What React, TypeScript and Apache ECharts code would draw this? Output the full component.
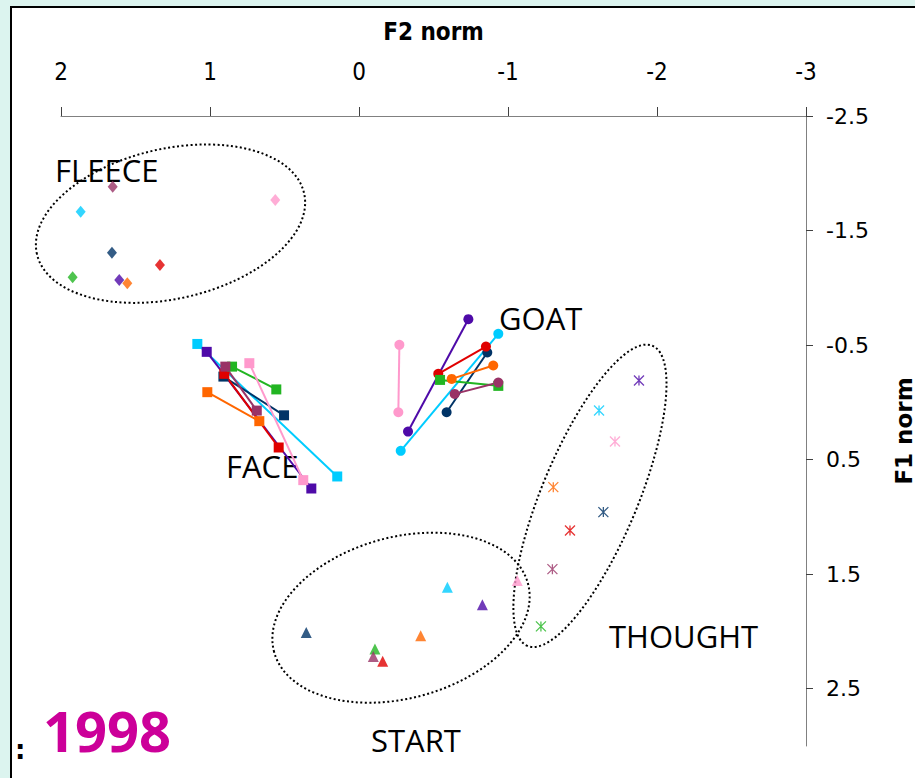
import React, { useEffect, useRef } from "react";
import * as echarts from "echarts";

// ---- data (F2 norm = x, F1 norm = y) ----
const speakerColors = ["#00CCFF", "#003366", "#4E0AA8", "#E00000", "#FF6600", "#22B522", "#993366", "#FF99CC"];

const fleeceX = [1.868, 1.658, 1.609, 1.336, 1.555, 1.922, 1.653, 0.562];
const fleeceY = [-1.665, -1.307, -1.069, -1.2, -1.04, -1.092, -1.883, -1.767];

const faceStartX = [1.085, 0.91, 1.022, 0.904, 1.018, 0.852, 0.897, 0.736];
const faceStartY = [-0.51, -0.225, -0.441, -0.249, -0.089, -0.312, -0.312, -0.342];
const faceEndX = [0.146, 0.503, 0.32, 0.539, 0.669, 0.555, 0.686, 0.374];
const faceEndY = [0.647, 0.113, 0.752, 0.394, 0.164, -0.113, 0.072, 0.679];

const goatStartX = [-0.28, -0.588, -0.329, -0.532, -0.622, -0.544, -0.642, -0.264];
const goatStartY = [0.423, 0.086, 0.255, -0.249, -0.205, -0.196, -0.074, 0.086];
const goatEndX = [-0.935, -0.861, -0.734, -0.852, -0.901, -0.935, -0.935, -0.271];
const goatEndY = [-0.598, -0.435, -0.726, -0.487, -0.322, -0.144, -0.173, -0.502];
const goatSymbols = ["circle", "circle", "circle", "circle", "circle", "rect", "circle", "circle"];

const startX = [-0.593, 0.354, -0.828, -0.159, -0.414, -0.107, -0.096, -1.062];
const startY = [1.613, 2.009, 1.767, 2.261, 2.038, 2.154, 2.218, 1.555];

const thoughtX = [-1.611, -1.64, -1.879, -1.416, -1.304, -1.221, -1.298, -1.718];
const thoughtY = [0.071, 0.958, -0.191, 1.119, 0.74, 1.956, 1.456, 0.342];

const xTicks = [-3, -2, -1, 0, 1, 2];
const yTicks = [-2.5, -1.5, -0.5, 0.5, 1.5, 2.5];

// ellipse annotations: centre in data units
const ellipseCenters = [
  [1.265, -1.56],
  [-0.282, 1.88],
  [-1.55, 0.816],
];
const ellipseRadii = [
  [137, 75],
  [131.5, 80.6],
  [162.6, 48],
];
const ellipseAngles = [12.8, 15.1, 67.4];

const asterisk = "path://M0,0L10,10M10,0L0,10M5,0L5,10";

export default function App() {
  const ref = useRef<HTMLDivElement>(null);
  useEffect(() => {
    if (!ref.current) return;
    const chart = echarts.init(ref.current, null, { renderer: "svg" });
    const series: any[] = [];

    series.push({
      type: "custom",
      clip: false,
      silent: true,
      z: 1,
      data: ellipseCenters,
      renderItem: (params: any, api: any) => {
        const i = params.dataIndex;
        const p = api.coord([api.value(0), api.value(1)]);
        return {
          type: "ellipse",
          shape: { cx: 0, cy: 0, rx: ellipseRadii[i][0], ry: ellipseRadii[i][1] },
          x: p[0],
          y: p[1],
          rotation: (ellipseAngles[i] * Math.PI) / 180,
          style: { fill: "none", stroke: "#000", lineWidth: 2, lineDash: [2, 2.5] },
        };
      },
    });

    speakerColors.forEach((c, i) => {
      series.push({
        type: "line",
        data: [
          [faceStartX[i], faceStartY[i]],
          [faceEndX[i], faceEndY[i]],
        ],
        symbol: "rect",
        symbolSize: 10,
        showSymbol: true,
        lineStyle: { color: c, width: 2 },
        itemStyle: { color: c },
        z: 3,
      });
      series.push({
        type: "line",
        data: [
          [goatStartX[i], goatStartY[i]],
          [goatEndX[i], goatEndY[i]],
        ],
        symbol: goatSymbols[i],
        symbolSize: 10,
        showSymbol: true,
        lineStyle: { color: c, width: 2 },
        itemStyle: { color: c },
        z: 3,
      });
      series.push({
        type: "scatter",
        data: [[fleeceX[i], fleeceY[i]]],
        symbol: "diamond",
        symbolSize: [10, 12],
        itemStyle: { color: c },
        z: 4,
      });
      series.push({
        type: "scatter",
        data: [[startX[i], startY[i]]],
        symbol: "triangle",
        symbolSize: [11, 11],
        itemStyle: { color: c },
        z: 4,
      });
      series.push({
        type: "scatter",
        data: [[thoughtX[i], thoughtY[i]]],
        symbol: asterisk,
        symbolSize: 10,
        itemStyle: { color: "rgba(0,0,0,0)", borderColor: c, borderWidth: 1.3 },
        z: 4,
      });
    });

    const wordFont = { fontFamily: "Open Sans", fontSize: 31, fill: "#000" };
    chart.setOption({
      animation: false,
      backgroundColor: "transparent",
      grid: { left: 61, top: 116, width: 745, height: 630, containLabel: false, outerBoundsMode: "none" },
      xAxis: {
        type: "value",
        position: "top",
        inverse: true,
        min: -3,
        max: 2,
        interval: 1,
        name: "F2 norm",
        nameLocation: "middle",
        nameGap: 72,
        nameTextStyle: { fontFamily: "DejaVu Sans Condensed", fontWeight: "bold", fontSize: 24, color: "#000" },
        axisLine: { show: true, onZero: false, lineStyle: { color: "#808080", width: 1 } },
        axisTick: { show: true, length: 9, lineStyle: { color: "#404040" }, customValues: xTicks },
        axisLabel: { margin: 32, fontFamily: "DejaVu Sans Condensed", fontSize: 24, color: "#000", customValues: xTicks },
        splitLine: { show: false },
      },
      yAxis: {
        type: "value",
        position: "right",
        inverse: true,
        min: -2.5,
        max: 3,
        interval: 1,
        name: "F1 norm",
        nameLocation: "middle",
        nameRotate: 90,
        nameGap: 86,
        nameTextStyle: { fontFamily: "DejaVu Sans", fontWeight: "bold", fontSize: 23, color: "#000" },
        axisLine: { show: true, onZero: false, lineStyle: { color: "#808080", width: 1 } },
        axisTick: { show: true, length: 7, lineStyle: { color: "#404040" }, customValues: yTicks },
        axisLabel: { margin: 20, fontFamily: "DejaVu Sans", fontSize: 22, color: "#000", customValues: yTicks },
        splitLine: { show: false },
      },
      graphic: [
        { type: "text", left: 55, top: 154, style: { ...wordFont, text: "FLEECE" } },
        { type: "text", left: 226, top: 450, style: { ...wordFont, text: "FACE" } },
        { type: "text", left: 499, top: 302, style: { ...wordFont, text: "GOAT" } },
        { type: "text", left: 609, top: 620, style: { ...wordFont, text: "THOUGHT" } },
        { type: "text", left: 371, top: 724, style: { ...wordFont, text: "START" } },
        { type: "text", left: 43, top: 702, style: { fontFamily: "Open Sans", fontWeight: "bold", fontSize: 56, fill: "#CC0099", text: "1998" } },
        { type: "text", left: 15, top: 737, style: { fontFamily: "DejaVu Sans", fontWeight: "bold", fontSize: 26, fill: "#000", text: ":" } },
      ],
      series,
    });
    return () => chart.dispose();
  }, []);

  return (
    <div style={{ position: "fixed", left: 0, top: 0, width: 915, height: 778, background: "#DCF4EF", overflow: "hidden" }}>
      <div
        style={{
          position: "absolute",
          left: 10,
          top: 6,
          width: 930,
          height: 800,
          background: "#fff",
          borderLeft: "2px solid #000",
          borderTop: "2px solid #000",
        }}
      />
      <div ref={ref} style={{ position: "absolute", left: 0, top: 0, width: 915, height: 778 }} />
    </div>
  );
}
